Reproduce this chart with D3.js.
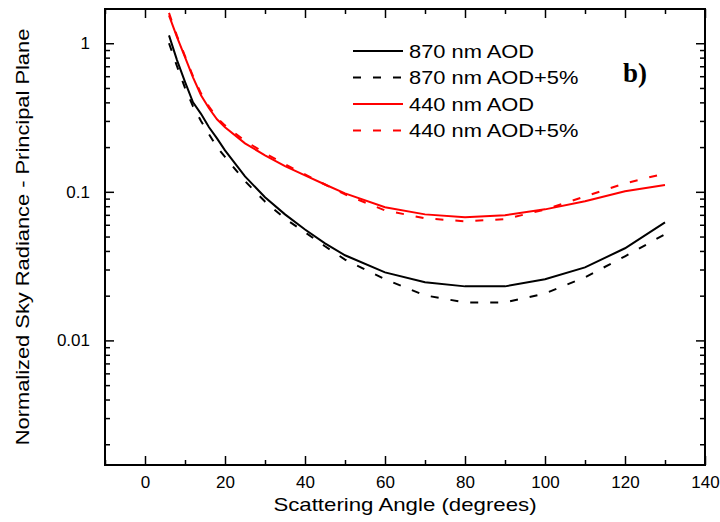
<!DOCTYPE html>
<html>
<head>
<meta charset="utf-8">
<script src="https://cdnjs.cloudflare.com/ajax/libs/d3/7.8.5/d3.min.js"></script>
<style>
  body { margin: 0; background: #fff; }
  text { font-family: Arial, "Liberation Sans", sans-serif; }
</style>
</head>
<body>
<div id="chart"></div>
<script>
// scattering angles (degrees)
const angles = [6, 8, 10, 12, 14, 16, 18, 20, 25, 30, 35, 40, 45, 50, 60, 70, 80, 90, 100, 110, 120, 130];

// normalized sky radiance, principal plane
const rad870 = [1.13, 0.77, 0.55, 0.40, 0.335, 0.272, 0.229, 0.19, 0.127, 0.092, 0.0705, 0.0558, 0.045, 0.0374, 0.0287, 0.0246, 0.0231, 0.0231, 0.0258, 0.031, 0.0417, 0.0623];
const rad870p5 = [1.0, 0.70, 0.50, 0.376, 0.30, 0.244, 0.20, 0.172, 0.118, 0.086, 0.066, 0.0534, 0.043, 0.035, 0.0258, 0.0201, 0.018, 0.018, 0.0207, 0.0266, 0.0368, 0.0518];
const rad440 = [1.54, 1.10, 0.805, 0.59, 0.447, 0.365, 0.308, 0.272, 0.212, 0.176, 0.149, 0.129, 0.112, 0.0977, 0.0787, 0.0705, 0.0673, 0.0695, 0.0762, 0.0863, 0.101, 0.111];
const rad440p5 = [1.6, 1.12, 0.82, 0.60, 0.46, 0.375, 0.315, 0.28, 0.22, 0.182, 0.153, 0.131, 0.112, 0.096, 0.075, 0.0663, 0.0633, 0.0655, 0.076, 0.093, 0.114, 0.133];

const seriesNames = ["870 nm AOD", "870 nm AOD+5%", "440 nm AOD", "440 nm AOD+5%"];
const xTicks = [0, 20, 40, 60, 80, 100, 120, 140];
const yTicks = [1, 0.1, 0.01];
const yTickLabels = ["1", "0.1", "0.01"];

const series = [
    {name: seriesNames[0], values: rad870, color: "#000", dash: null},
    {name: seriesNames[1], values: rad870p5, color: "#000", dash: "8,12"},
    {name: seriesNames[2], values: rad440, color: "#ff0000", dash: null},
    {name: seriesNames[3], values: rad440p5, color: "#ff0000", dash: "8,12"}
];

// set the dimensions and margins of the graph
const margin = {top: 9, right: 15, bottom: 57, left: 105},
    width = 720 - margin.left - margin.right,
    height = 522 - margin.top - margin.bottom;

const svg = d3.select("#chart")
    .append("svg")
        .attr("width", 720)
        .attr("height", 522)
    .append("g")
        .attr("transform", `translate(${margin.left}, ${margin.top})`);

const x = d3.scaleLinear()
    .domain([-10, 140])
    .range([0, width]);

const y = d3.scaleLog()
    .domain([0.00145, 1.7])
    .range([height, 0]);

// the original text is a bit wider than Arial, stretch it horizontally
function stretch(sel, k) {
    sel.each(function () {
        const len = this.getComputedTextLength();
        d3.select(this)
            .attr("textLength", len * k)
            .attr("lengthAdjust", "spacingAndGlyphs");
    });
}

// minor ticks on the log axis
const yMinor = [];
[0.001, 0.01, 0.1, 1].forEach(d => {
    for (let k = 2; k <= 9; k++) {
        const v = d * k;
        if (v > y.domain()[0] && v < y.domain()[1]) yMinor.push(v);
    }
});
const xMinor = d3.range(-10, 141, 10).filter(d => d % 20 !== 0);

const tickStyle = g => g.selectAll("line").attr("stroke", "#000").attr("stroke-width", 1.5);

// bottom axis
svg.append("g")
    .attr("transform", `translate(0, ${height})`)
    .call(d3.axisBottom(x).tickValues(xTicks).tickSizeInner(-9).tickSizeOuter(0).tickPadding(11))
    .call(g => g.select(".domain").remove())
    .call(tickStyle)
    .call(g => g.selectAll("text").attr("font-size", 17).attr("fill", "#000"));
svg.append("g")
    .attr("transform", `translate(0, ${height})`)
    .call(d3.axisBottom(x).tickValues(xMinor).tickSizeInner(-5).tickSizeOuter(0).tickFormat(""))
    .call(g => g.select(".domain").remove())
    .call(tickStyle);

// top axis
svg.append("g")
    .call(d3.axisTop(x).tickValues(xTicks).tickSizeInner(-9).tickSizeOuter(0).tickFormat(""))
    .call(g => g.select(".domain").remove())
    .call(tickStyle);
svg.append("g")
    .call(d3.axisTop(x).tickValues(xMinor).tickSizeInner(-5).tickSizeOuter(0).tickFormat(""))
    .call(g => g.select(".domain").remove())
    .call(tickStyle);

// left axis
svg.append("g")
    .call(d3.axisLeft(y).tickValues(yTicks).tickSizeInner(-9).tickSizeOuter(0).tickPadding(15)
        .tickFormat((d, i) => yTickLabels[i]))
    .call(g => g.select(".domain").remove())
    .call(tickStyle)
    .call(g => g.selectAll("text").attr("font-size", 17).attr("fill", "#000"));
svg.append("g")
    .call(d3.axisLeft(y).tickValues(yMinor).tickSizeInner(-5).tickSizeOuter(0).tickFormat(""))
    .call(g => g.select(".domain").remove())
    .call(tickStyle);

// right axis
svg.append("g")
    .attr("transform", `translate(${width}, 0)`)
    .call(d3.axisRight(y).tickValues(yTicks).tickSizeInner(-9).tickSizeOuter(0).tickFormat(""))
    .call(g => g.select(".domain").remove())
    .call(tickStyle);
svg.append("g")
    .attr("transform", `translate(${width}, 0)`)
    .call(d3.axisRight(y).tickValues(yMinor).tickSizeInner(-5).tickSizeOuter(0).tickFormat(""))
    .call(g => g.select(".domain").remove())
    .call(tickStyle);

// frame
svg.append("rect")
    .attr("width", width)
    .attr("height", height)
    .attr("fill", "none")
    .attr("stroke", "#000")
    .attr("stroke-width", 2);

// curves
const line = d3.line()
    .x((d, i) => x(angles[i]))
    .y(d => y(d));

svg.selectAll(".curve")
    .data(series)
    .join("path")
    .attr("class", "curve")
    .attr("fill", "none")
    .attr("stroke", d => d.color)
    .attr("stroke-width", 2)
    .attr("stroke-dasharray", d => d.dash)
    .attr("d", d => line(d.values));

// legend
const legend = svg.append("g")
    .attr("transform", "translate(248, 42)");
series.forEach((s, i) => {
    const row = legend.append("g").attr("transform", `translate(0, ${i * 26.5})`);
    row.append("line")
        .attr("x1", 0).attr("x2", 50)
        .attr("stroke", s.color)
        .attr("stroke-width", 2)
        .attr("stroke-dasharray", s.dash);
    row.append("text")
        .attr("x", 56)
        .attr("dy", "0.35em")
        .attr("font-size", 19)
        .text(s.name)
        .call(stretch, 1.15);
});

// panel label
svg.append("text")
    .attr("x", 518)
    .attr("y", 73)
    .style("font-family", "'Liberation Serif', 'Times New Roman', serif")
    .style("font-weight", "bold")
    .style("font-size", "27px")
    .text("b)");

// x-axis label
svg.append("text")
    .attr("x", width / 2)
    .attr("y", height + 46)
    .style("text-anchor", "middle")
    .style("font-size", "19px")
    .text("Scattering Angle (degrees)")
    .call(stretch, 1.17);

// y-axis label
svg.append("text")
    .attr("transform", "rotate(-90)")
    .attr("x", -height / 2)
    .attr("y", -76)
    .style("text-anchor", "middle")
    .style("font-size", "19px")
    .text("Normalized Sky Radiance - Principal Plane")
    .call(stretch, 1.15);
</script>
</body>
</html>
